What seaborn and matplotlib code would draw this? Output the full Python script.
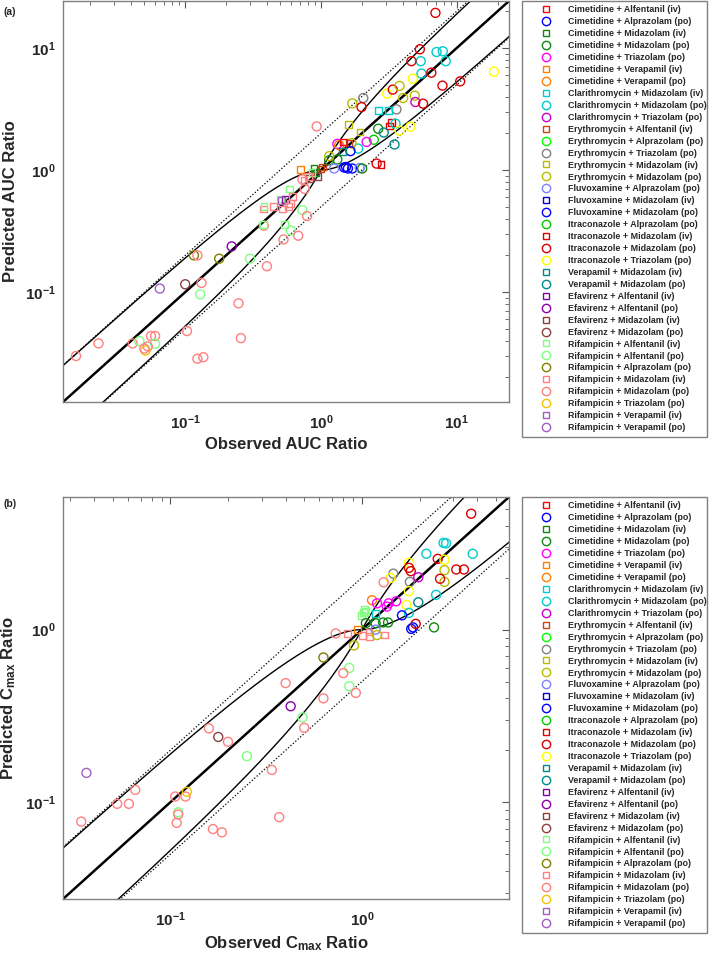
import numpy as np
import pandas as pd
import matplotlib
matplotlib.use('Agg')
import matplotlib.pyplot as plt
import seaborn as sns
from matplotlib.lines import Line2D

LABELS = [
    "Cimetidine + Alfentanil (iv)", "Cimetidine + Alprazolam (po)", "Cimetidine + Midazolam (iv)",
    "Cimetidine + Midazolam (po)", "Cimetidine + Triazolam (po)", "Cimetidine + Verapamil (iv)",
    "Cimetidine + Verapamil (po)", "Clarithromycin + Midazolam (iv)", "Clarithromycin + Midazolam (po)",
    "Clarithromycin + Triazolam (po)", "Erythromycin + Alfentanil (iv)", "Erythromycin + Alprazolam (po)",
    "Erythromycin + Triazolam (po)", "Erythromycin + Midazolam (iv)", "Erythromycin + Midazolam (po)",
    "Fluvoxamine + Alprazolam (po)", "Fluvoxamine + Midazolam (iv)", "Fluvoxamine + Midazolam (po)",
    "Itraconazole + Alprazolam (po)", "Itraconazole + Midazolam (iv)", "Itraconazole + Midazolam (po)",
    "Itraconazole + Triazolam (po)", "Verapamil + Midazolam (iv)", "Verapamil + Midazolam (po)",
    "Efavirenz + Alfentanil (iv)", "Efavirenz + Alfentanil (po)", "Efavirenz + Midazolam (iv)",
    "Efavirenz + Midazolam (po)", "Rifampicin + Alfentanil (iv)", "Rifampicin + Alfentanil (po)",
    "Rifampicin + Alprazolam (po)", "Rifampicin + Midazolam (iv)", "Rifampicin + Midazolam (po)",
    "Rifampicin + Triazolam (po)", "Rifampicin + Verapamil (iv)", "Rifampicin + Verapamil (po)",
]
COLORS = [
    "#FF0000", "#0000FF", "#118811", "#118811", "#FF00FF", "#FF8000", "#FF8000", "#00CCCC", "#00CCCC",
    "#CC00CC", "#CC4411", "#00FF00", "#808080", "#BBBB00", "#BBBB00", "#8080FF", "#0000CC", "#0000FF",
    "#00CC00", "#DD0000", "#DD0000", "#FFFF00", "#008B8B", "#008B8B", "#8800AA", "#8800AA", "#8B4040",
    "#8B4040", "#80FF80", "#80FF80", "#808000", "#FF8080", "#FF8080", "#F5C400", "#A060C0", "#A060C0",
]
MARKERS = ["s" if "(iv)" in lab else "o" for lab in LABELS]

# ---- panel (a): AUC ratio ----
auc_series = [20, 20, 8, 8, 8, 8, 8, 20, 20, 21, 20, 20, 21, 21, 20, 14, 14, 14, 9, 20,
              12, 14, 20, 12, 7, 7, 19, 19, 8, 21, 21, 13, 13, 3, 23, 18, 23, 4, 4, 8,
              14, 6, 10, 0, 10, 17, 22, 3, 3, 14, 1, 1, 1, 17, 15, 15, 3, 20, 19, 5,
              10, 2, 2, 26, 26, 28, 31, 31, 28, 32, 32, 28, 24, 34, 31, 31, 31, 31, 31, 31,
              28, 29, 32, 32, 28, 28, 29, 32, 32, 32, 32, 30, 32, 30, 25, 29, 27, 32, 35, 29,
              32, 32, 32, 32, 32, 32, 29, 32, 32, 29, 32, 33, 32, 32, 32]
auc_obs = [6.97, 5.35, 7.1, 7.9, 8.3, 5.43, 5.5, 4.64, 6.5, 18.8, 10.6, 7.85, 4.75, 3.07, 3.38, 3.79, 4.03, 4.91, 4.96, 5.65,
           2.05, 1.70, 1.99, 3.6, 2.64, 3.16, 3.18, 3.29, 3.54, 3.79, 4.57, 1.59, 1.94, 2.64, 2.9, 2.45, 3.48, 1.32, 2.17, 1.88,
           1.68, 1.36, 1.61, 1.46, 1.02, 1.65, 1.45, 1.32, 1.15, 1.15, 1.48, 1.58, 1.70, 1.53, 1.25, 1.93, 2.01, 2.57, 2.77, 0.71,
           1.0, 0.89, 0.91, 0.94, 0.82, 0.86, 0.75, 0.81, 0.59, 0.73, 0.76, 0.506, 0.55, 0.51, 0.62, 0.60, 0.575, 0.52, 0.445, 0.375,
           0.38, 0.73, 0.79, 0.38, 0.375, 0.54, 0.60, 0.68, 0.53, 0.93, 0.40, 0.116, 0.123, 0.178, 0.22, 0.30, 0.10, 0.132, 0.065, 0.129,
           0.247, 0.103, 0.257, 0.0157, 0.023, 0.041, 0.046, 0.056, 0.060, 0.060, 0.053, 0.051, 0.050, 0.123, 0.136]
auc_pred = [19.4, 9.76, 9.27, 9.4, 7.8, 7.8, 6.17, 7.8, 6.28, 6.4, 5.33, 4.92, 5.6, 4.23, 4.56, 4.89, 3.89, 4.07, 3.61, 3.5,
            3.89, 3.52, 3.28, 3.14, 3.09, 3.09, 2.3, 2.47, 2.4, 2.1, 2.27, 2.35, 2.05, 2.18, 2.03, 1.77, 1.62, 1.64, 1.70, 1.50,
            1.66, 1.6, 1.64, 1.70, 1.06, 1.43, 1.43, 1.22, 1.2, 1.30, 1.05, 1.03, 1.03, 1.06, 1.03, 1.04, 1.03, 1.13, 1.11, 1.01,
            1.02, 1.03, 0.96, 0.88, 0.85, 0.96, 0.82, 0.89, 0.70, 0.84, 0.70, 0.58, 0.57, 0.56, 0.61, 0.53, 0.50, 0.48, 0.50, 0.48,
            0.50, 0.47, 0.42, 0.35, 0.36, 0.36, 0.32, 0.29, 0.27, 2.28, 0.163, 0.20, 0.20, 0.188, 0.237, 0.188, 0.116, 0.119, 0.107, 0.096,
            0.081, 0.048, 0.042, 0.030, 0.038, 0.038, 0.0397, 0.0437, 0.0437, 0.0378, 0.0359, 0.0333, 0.0345, 0.0285, 0.0293]

# ---- panel (b): Cmax ratio ----
cmax_series = [20, 8, 8, 8, 8, 20, 21, 20, 20, 14, 14, 20, 8, 21, 20, 20, 12, 21, 32, 12,
               9, 21, 6, 4, 4, 4, 4, 21, 23, 8, 1, 7, 28, 28, 28, 28, 3, 3, 3, 3,
               17, 17, 20, 3, 5, 31, 31, 31, 31, 31, 15, 14, 32, 14, 30, 29, 32, 29, 32, 32,
               32, 25, 29, 32, 32, 32, 32, 27, 32, 29, 35, 32, 32, 32, 32, 32, 32, 33, 29, 32,
               32, 32, 32]
cmax_obs = [3.72, 2.67, 2.75, 3.79, 2.17, 2.49, 2.70, 3.11, 3.41, 2.70, 2.70, 2.56, 2.44, 1.76, 1.76, 1.80, 1.46, 1.41, 1.30, 1.78,
            1.97, 1.76, 1.13, 1.20, 1.38, 1.51, 1.35, 1.71, 1.97, 1.76, 1.62, 1.18, 1.02, 1.03, 1.0, 1.04, 1.18, 1.29, 1.37, 1.05,
            1.81, 1.85, 1.91, 2.38, 0.95, 0.84, 1.01, 1.10, 1.31, 1.09, 1.18, 1.2, 0.73, 0.91, 0.63, 0.86, 0.80, 0.86, 0.93, 0.63,
            0.40, 0.425, 0.49, 0.50, 0.339, 0.37, 0.159, 0.178, 0.20, 0.251, 0.0365, 0.0656, 0.0528, 0.0608, 0.0343, 0.106, 0.120, 0.122, 0.110, 0.11,
            0.108, 0.167, 0.186]
cmax_pred = [4.69, 3.18, 3.16, 2.75, 2.75, 2.57, 2.54, 2.23, 2.23, 2.21, 1.89, 1.97, 1.59, 2.44, 2.28, 2.18, 2.11, 1.99, 1.88, 1.89,
             2.01, 1.67, 1.48, 1.42, 1.42, 1.46, 1.36, 1.39, 1.44, 1.25, 1.21, 1.24, 1.25, 1.31, 1.21, 1.28, 1.09, 1.1, 1.1, 1.09,
             1.01, 1.03, 1.08, 1.03, 1.0, 0.95, 0.92, 0.91, 0.93, 0.97, 1.0, 0.93, 0.95, 0.81, 0.69, 0.60, 0.56, 0.47, 0.43, 0.40,
             0.49, 0.36, 0.31, 0.27, 0.154, 0.082, 0.268, 0.239, 0.224, 0.185, 0.148, 0.118, 0.098, 0.098, 0.0773, 0.108, 0.108, 0.115, 0.0875, 0.085,
             0.076, 0.070, 0.067]

AUC_LIMS = [10 ** -1.9, 10 ** 1.385]
CMAX_LIMS = [10 ** -1.56, 10 ** 0.768]
AUC_TICKS = [0.1, 1, 10]
AUC_TICK_LABELS = [r"$\mathbf{10^{-1}}$", r"$\mathbf{10^{0}}$", r"$\mathbf{10^{1}}$"]
CMAX_TICKS = [0.1, 1]
CMAX_TICK_LABELS = [r"$\mathbf{10^{-1}}$", r"$\mathbf{10^{0}}$"]

sns.set_style("white")
plt.rcParams.update({
    "font.family": ["Liberation Sans", "DejaVu Sans"],
    "mathtext.fontset": "custom",
    "mathtext.rm": "Liberation Sans:bold",
    "mathtext.bf": "Liberation Sans:bold",
    "mathtext.it": "Liberation Sans:bold",
    "mathtext.default": "bf",
})

W, H = 709, 956
fig = plt.figure(figsize=(W / 100, H / 100), dpi=100)
ax_a = fig.add_axes([63 / W, 1 - 402 / H, 446 / W, 401 / H])
ax_b = fig.add_axes([63 / W, 1 - 899 / H, 446 / W, 402 / H])

PAL = dict(zip(LABELS, COLORS))
MK = dict(zip(LABELS, MARKERS))
SPINE = "#808080"


def guest(r):
    rm = np.where(r >= 1, r, 1 / r)
    lim = (1 + 2 * (rm - 1)) / rm
    return r * lim, r / lim


def panel(ax, series, obs, pred, lims, ticks, ticklabels, xlabel, ylabel):
    ax.set_xscale("log")
    ax.set_yscale("log")
    r = np.logspace(np.log10(lims[0]) - 0.1, np.log10(lims[1]) + 0.1, 600)
    up, lo = guest(r)
    ax.plot(r, r, color="black", lw=1.8, zorder=1)
    ax.plot(r, 2 * r, color="black", ls=(0, (1, 1.6)), lw=0.9, zorder=1)
    ax.plot(r, r / 2, color="black", ls=(0, (1, 1.6)), lw=0.9, zorder=1)
    ax.plot(r, up, color="black", lw=1.0, zorder=1)
    ax.plot(r, lo, color="black", lw=1.0, zorder=1)
    df = pd.DataFrame({"obs": obs, "pred": pred, "label": [LABELS[i] for i in series]})
    sns.scatterplot(data=df, x="obs", y="pred", hue="label", style="label",
                    palette=PAL, markers=MK, ax=ax, legend=False, s=40, linewidth=1.0, zorder=3)
    coll = ax.collections[-1]
    fcs = coll.get_facecolors()
    coll.set_edgecolors(fcs)
    coll.set_facecolors("none")
    coll.set_linewidths(1.0)
    coll.set_sizes(np.where(df["label"].map(MK) == "s", 24, 42))
    ax.set_xlim(lims)
    ax.set_ylim(lims)
    ax.set_xticks(ticks)
    ax.set_xticklabels(ticklabels)
    ax.set_yticks(ticks)
    ax.set_yticklabels(ticklabels)
    ax.tick_params(which="both", direction="in", top=True, right=True, color="#555555",
                   labelsize=11)
    ax.tick_params(axis="x", pad=8)
    ax.tick_params(axis="y", pad=5)
    ax.tick_params(which="major", length=5, width=0.8)
    ax.tick_params(which="minor", length=3, width=0.6)
    for sp in ax.spines.values():
        sp.set_color(SPINE)
        sp.set_linewidth(1.0)
    ax.set_xlabel(xlabel, fontsize=12, fontweight="bold", labelpad=4)
    ax.set_ylabel(ylabel, fontsize=12, fontweight="bold", labelpad=5)


panel(ax_a, auc_series, auc_obs, auc_pred, AUC_LIMS, AUC_TICKS, AUC_TICK_LABELS,
      "Observed AUC Ratio", "Predicted AUC Ratio")
panel(ax_b, cmax_series, cmax_obs, cmax_pred, CMAX_LIMS, CMAX_TICKS, CMAX_TICK_LABELS,
      r"Observed C$_{\mathbf{max}}$ Ratio", r"Predicted C$_{\mathbf{max}}$ Ratio")

fig.text(4 / W, 1 - 12 / H, "(a)", fontsize=7.5, fontweight="bold", va="center")
fig.text(4 / W, 1 - 504 / H, "(b)", fontsize=7.5, fontweight="bold", va="center")

handles = [Line2D([], [], ls="none", marker=m, markerfacecolor="none", markeredgecolor=c,
                  markersize=(4.3 if m == "s" else 6.0), markeredgewidth=1.0)
           for m, c in zip(MARKERS, COLORS)]

for top, bot in [(1, 441), (497, 940)]:
    leg = fig.legend(handles, LABELS, loc="upper left",
                     bbox_to_anchor=(522 / W, 1 - bot / H, 185 / W, (bot - top) / H),
                     mode="expand", borderaxespad=0, borderpad=0.5, handlelength=4.46,
                     handletextpad=0.24, labelspacing=0.33, fancybox=False,
                     prop={"size": 6.4, "weight": "bold"}, frameon=True)
    fr = leg.get_frame()
    fr.set_edgecolor(SPINE)
    fr.set_linewidth(1.0)
    fr.set_alpha(1)

fig.savefig("out.png", dpi=100)
